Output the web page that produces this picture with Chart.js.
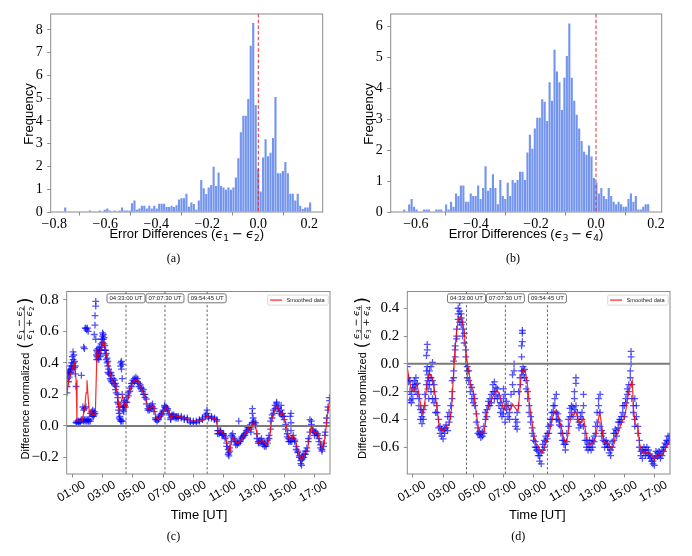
<!DOCTYPE html>
<html><head><meta charset="utf-8">
<script src="https://cdn.jsdelivr.net/npm/chart.js@4.4.1/dist/chart.umd.min.js"></script>
<style>
html,body{margin:0;padding:0;background:#fff;}
#wrap{position:relative;width:692px;height:556px;overflow:hidden;background:#fff;}
canvas{position:absolute;}
</style></head><body>
<div id="wrap">
<canvas id="ca" width="346" height="278" style="left:0;top:0"></canvas>
<canvas id="cb" width="346" height="278" style="left:346px;top:0"></canvas>
<canvas id="cc" width="346" height="278" style="left:0;top:278px"></canvas>
<canvas id="cd" width="346" height="278" style="left:346px;top:278px"></canvas>
</div>
<script>
// ---------------- DATA ----------------
// (a) histogram of e1 - e2 : 100 bins
const histBinStartA = -0.762;
const histBinWidthA = 0.0097;
const histA = [0.2,0,0,0,0,0,0,0,0,0,
  0.07,0,0,0,0.07,0,0.1,0.15,0.07,0,
  0.07,0,0.07,0.2,0.07,0.07,0.07,0.38,0.5,0.1,
  0.15,0.28,0.28,0.15,0.28,0.15,0.28,0.15,0.36,0.36,
  0.36,0.22,0.22,0.28,0.22,0.3,0.55,0.6,0.6,0.8,
  0.23,0.42,0.35,0.1,0.5,1.41,1.04,0.79,1.08,1.19,
  1.99,1.14,1.74,1.14,1.08,0.98,1.08,0.98,1.08,1.52,
  2.36,3.5,4.23,4.23,4.97,7.3,8.3,4.7,1.9,0.9,
  2.4,3.2,2.45,2.6,3.25,5.05,1.7,1.7,1.8,2.2,
  1.7,0.8,0.8,0.5,0.8,0.28,0.13,0.2,0.2,0.42];
// (b) histogram of e3 - e4 : 100 bins
const histBinStartB = -0.643;
const histBinWidthB = 0.00821;
const histB = [0.08,0,0.24,0.42,0.17,0.08,0,0,0.08,0.08,
  0.08,0,0,0.08,0.08,0.08,0,0.24,0.08,0.33,
  0.17,0.6,0.52,0.86,0.86,0.33,0.33,0.6,0.52,0.52,
  0.86,0.42,0.78,1.48,0.69,0.78,1.22,0.78,0.25,1.04,
  0.52,0.42,0.95,0.52,1.04,0.95,1.04,1.3,1.3,1.04,
  1.93,2.5,2.05,2.7,3.05,3.05,3.65,3.57,2.95,4.2,
  3.6,5.25,4.55,4.2,3.3,4.35,5.05,6.1,4.35,3.6,
  3.15,2.7,2.3,1.95,1.85,2.15,1.8,1.1,0.95,0.6,
  0.78,0.52,0.42,0.78,0.52,0.33,0.25,0.33,0.25,0.17,
  0.17,0.42,0.6,0.33,0.52,0.08,0.08,0.17,0.25,0.25];
const refLineX = 0;
const histAXTicks = [-0.8,-0.6,-0.4,-0.2,0,0.2];
const histAXTickLabels = ['\u22120.8','\u22120.6','\u22120.4','\u22120.2','0.0','0.2'];
const histBXTicks = [-0.6,-0.4,-0.2,0,0.2];
const histBXTickLabels = ['\u22120.6','\u22120.4','\u22120.2','0.0','0.2'];
const histAYTicks = [0,1,2,3,4,5,6,7,8];
const histBYTicks = [0,1,2,3,4,5,6];

// time series (hours UT)
const timeTicks = [1,3,5,7,9,11,13,15,17];
const timeTickLabels = ['01:00','03:00','05:00','07:00','09:00','11:00','13:00','15:00','17:00'];
const eventTimes = [4.55, 7.125, 9.9125];
const eventLabels = ['04:33:00 UT','07:07:30 UT','09:54:45 UT'];
const cYTicks = [-0.2,0,0.2,0.4,0.6,0.8];
const cYTickLabels = ['\u22120.2','0.0','0.2','0.4','0.6','0.8'];
const dYTicks = [-0.6,-0.4,-0.2,0,0.2,0.4];
const dYTickLabels = ['\u22120.6','\u22120.4','\u22120.2','0.0','0.2','0.4'];

// (c) smoothed line [t, value]
const cSmooth = [[0.65,0.21],[0.77,0.29],[0.94,0.35],[1.14,0.40],[1.25,0.29],[1.31,0.03],[1.64,0.03],[1.82,0.11],[1.91,0.21],[1.97,0.29],[2.04,0.19],[2.13,0.07],[2.24,0.10],[2.35,0.07],[2.52,0.07],[2.63,0.47],[2.74,0.44],[2.85,0.47],[2.96,0.51],[3.07,0.54],[3.18,0.49],[3.29,0.44],[3.40,0.39],[3.51,0.33],[3.62,0.29],[3.78,0.27],[3.89,0.25],[4.0,0.19],[4.11,0.09],[4.22,0.15],[4.33,0.19],[4.44,0.13],[4.55,0.11],[4.66,0.16],[4.79,0.21],[4.94,0.27],[5.16,0.29],[5.34,0.29],[5.49,0.25],[5.65,0.22],[5.82,0.19],[6.0,0.11],[6.15,0.11],[6.37,0.13],[6.55,0.05],[6.7,0.04],[6.88,0.07],[7.03,0.09],[7.21,0.12],[7.36,0.10],[7.52,0.05],[7.69,0.07],[7.91,0.06],[8.13,0.06],[8.35,0.05],[8.57,0.05],[8.79,0.03],[9.12,0.03],[9.54,0.03],[9.76,0.04],[9.94,0.07],[10.09,0.05],[10.31,0.05],[10.53,0.04],[10.64,-0.04],[10.82,-0.03],[10.97,-0.05],[11.13,-0.07],[11.30,-0.15],[11.41,-0.17],[11.52,-0.09],[11.63,-0.07],[11.74,-0.09],[11.90,-0.11],[12.07,-0.10],[12.29,-0.07],[12.51,-0.04],[12.67,-0.01],[12.80,-0.03],[12.95,0.02],[13.06,0.02],[13.17,-0.03],[13.28,-0.11],[13.44,-0.10],[13.57,-0.09],[13.72,-0.11],[13.83,-0.12],[13.94,-0.10],[14.05,-0.07],[14.16,0.03],[14.27,0.07],[14.38,0.10],[14.54,0.13],[14.65,0.10],[14.76,0.07],[14.87,0.08],[15.0,0.05],[15.15,0.0],[15.31,-0.08],[15.48,-0.09],[15.59,-0.06],[15.75,-0.09],[15.88,-0.15],[16.03,-0.19],[16.14,-0.22],[16.25,-0.19],[16.41,-0.17],[16.54,-0.15],[16.69,-0.07],[16.80,0.0],[16.91,-0.03],[17.07,-0.05],[17.20,-0.04],[17.35,-0.09],[17.51,-0.14],[17.64,-0.12],[17.75,-0.03],[17.86,0.07],[18.02,0.17]];
// (c) raw points [t, v1, v2, ...]
const cScatter = [[0.65,0.21,0.25],[0.7,0.30,0.33],[0.75,0.28,0.34],[0.8,0.31,0.35],[0.85,0.33,0.36],[0.9,0.34,0.38],[0.95,0.36,0.40],[1.0,0.44,0.38],[1.05,0.47,0.42,0.36],[1.1,0.45,0.40],[1.15,0.41,0.37],[1.2,0.33,0.38],[1.25,0.25,0.02],[1.3,0.03,0.02],[1.4,0.03,0.02],[1.5,0.03,0.02],[1.55,0.03],[1.6,0.04,0.32],[1.7,0.04,0.12],[1.75,0.10,0.03,0.5],[1.8,0.49,0.11,0.04],[1.85,0.62,0.03],[1.9,0.62,0.04,0.12],[1.95,0.61,0.03],[2.0,0.62,0.04],[2.05,0.60,0.03],[2.1,0.04,0.03],[2.2,0.08,0.03],[2.3,0.09,0.06],[2.35,0.07,0.1],[2.4,0.06,0.08],[2.45,0.07,0.09,0.58],[2.5,0.64,0.7,0.08],[2.55,0.76,0.79,0.55],[2.6,0.45,0.48,0.42],[2.65,0.47,0.44],[2.7,0.43,0.46,0.49],[2.75,0.45,0.42],[2.8,0.46,0.50],[2.85,0.48,0.44],[2.9,0.52,0.48],[2.95,0.55,0.50],[3.0,0.57,0.59,0.53],[3.05,0.58,0.55],[3.1,0.56,0.52],[3.15,0.51,0.48],[3.2,0.48,0.45],[3.25,0.46,0.42],[3.3,0.43,0.40],[3.35,0.41,0.38,0.34],[3.4,0.36,0.33],[3.5,0.33,0.30],[3.55,0.29,0.34],[3.6,0.28,0.32],[3.7,0.27,0.30],[3.8,0.26,0.29],[3.85,0.23,0.27],[3.9,0.25,0.21],[4.0,0.2,0.15,0.18],[4.05,0.1,0.14],[4.1,0.08,0.12,0.05],[4.15,0.06,0.04],[4.2,0.03,0.38,0.4],[4.25,0.36,0.41,0.03],[4.3,0.39,0.3,0.2],[4.35,0.12,0.1,0.03],[4.4,0.09,0.12],[4.45,0.13,0.16],[4.5,0.12,0.15],[4.6,0.15,0.18],[4.7,0.19,0.21],[4.8,0.22,0.24],[4.9,0.25,0.27],[5.0,0.27,0.29],[5.1,0.28,0.30],[5.2,0.29,0.31],[5.3,0.28,0.30],[5.4,0.27,0.25],[5.5,0.24,0.26],[5.6,0.22,0.24],[5.7,0.2,0.23],[5.8,0.18,0.2],[5.9,0.14,0.17],[6.0,0.11,0.1],[6.1,0.10,0.12],[6.2,0.11,0.13],[6.3,0.12,0.14],[6.4,0.11,0.09],[6.5,0.05,0.04],[6.6,0.04,0.03],[6.7,0.04,0.05],[6.8,0.06,0.07],[6.9,0.08,0.07],[7.0,0.09,0.1],[7.1,0.12,0.13],[7.2,0.12,0.11],[7.3,0.1,0.11],[7.4,0.07,0.08],[7.5,0.05,0.04],[7.6,0.06,0.07],[7.7,0.06,0.07],[7.8,0.06,0.05],[7.9,0.06,0.05],[8.0,0.05,0.06],[8.2,0.05,0.06],[8.4,0.05,0.04],[8.6,0.04,0.05],[8.8,0.03,0.02],[9.0,0.03,0.02],[9.2,0.03,0.02],[9.4,0.03,0.04],[9.6,0.04,0.05],[9.8,0.06,0.07],[9.9,0.1,0.08],[10.0,0.06,0.05],[10.2,0.05,0.06],[10.4,0.05,0.04],[10.55,0.04,0.03],[10.6,-0.03,-0.05],[10.7,-0.05,-0.03],[10.8,-0.03,-0.04],[10.9,-0.05,-0.06],[11.0,-0.06,-0.05],[11.1,-0.07,-0.08],[11.2,-0.11,-0.13],[11.3,-0.15,-0.18],[11.35,-0.17,-0.19],[11.4,-0.16,-0.14],[11.5,-0.10,-0.06],[11.6,-0.05,-0.07],[11.7,-0.08,-0.09],[11.8,-0.10,-0.12],[11.9,-0.12,-0.11],[12.0,-0.11,0.03],[12.1,-0.09,-0.10],[12.2,-0.08,-0.07],[12.3,-0.07,-0.06],[12.4,-0.05,-0.06],[12.5,-0.04,-0.03],[12.6,-0.02,-0.01],[12.7,0.0,-0.01],[12.8,-0.02,-0.04],[12.9,0.02,0.08,0.11],[12.95,0.05,0.02],[13.0,0.03,0.01],[13.1,0.0,0.02],[13.2,-0.05,-0.08],[13.3,-0.11,-0.10],[13.4,-0.09,-0.11],[13.5,-0.08,-0.10],[13.6,-0.10,-0.12],[13.7,-0.11,-0.13],[13.8,-0.12,-0.13],[13.9,-0.11,-0.09],[14.0,-0.08,-0.06],[14.1,-0.02,0.03],[14.2,0.05,0.07],[14.3,0.08,0.1],[14.4,0.11,0.13],[14.5,0.15,0.14],[14.6,0.12,0.11],[14.7,0.08,0.09],[14.8,0.07,0.1,0.13],[14.9,0.06,0.08],[15.0,0.04,0.06],[15.1,0.01,-0.02],[15.2,-0.05,-0.07],[15.3,-0.08,-0.1],[15.4,-0.09,-0.1,0.06],[15.45,0.08,0.02,-0.03],[15.5,-0.08,-0.1],[15.6,-0.06,-0.08],[15.7,-0.09,-0.1],[15.8,-0.13,-0.15],[15.9,-0.16,-0.17],[16.0,-0.19,-0.2],[16.1,-0.22,-0.24],[16.15,-0.25,-0.21],[16.2,-0.21,-0.19],[16.3,-0.18,-0.2],[16.4,-0.16,-0.18],[16.5,-0.14,-0.16],[16.6,-0.1,-0.08],[16.7,-0.04,0.04],[16.8,0.03,0.01],[16.9,-0.02,-0.03],[17.0,-0.04,-0.06],[17.1,-0.05,-0.04],[17.2,-0.05,-0.06],[17.3,-0.08,-0.1],[17.4,-0.12,-0.14],[17.5,-0.15,-0.16],[17.6,-0.13,-0.11],[17.7,-0.06,-0.04],[17.8,0.02,0.05],[17.9,0.1,0.12],[18.0,0.16,0.18]];

// (d) smoothed line
const dSmooth = [[0.62,-0.02],[0.75,-0.11],[0.91,-0.19],[1.06,-0.2],[1.2,-0.16],[1.28,-0.15],[1.42,-0.23],[1.57,-0.33],[1.68,-0.36],[1.81,-0.26],[1.95,-0.13],[2.08,-0.07],[2.21,-0.08],[2.35,-0.13],[2.48,-0.23],[2.61,-0.33],[2.74,-0.45],[2.9,-0.48],[3.05,-0.48],[3.23,-0.45],[3.4,-0.44],[3.56,-0.32],[3.67,-0.11],[3.78,0.09],[3.89,0.23],[4.02,0.33],[4.15,0.34],[4.29,0.30],[4.40,0.23],[4.51,0.09],[4.62,0.0],[4.73,-0.07],[4.84,-0.16],[5.0,-0.19],[5.1,-0.27],[5.21,-0.36],[5.33,-0.45],[5.44,-0.50],[5.61,-0.5],[5.74,-0.48],[5.88,-0.36],[5.99,-0.31],[6.14,-0.27],[6.32,-0.23],[6.54,-0.19],[6.72,-0.21],[6.87,-0.27],[7.02,-0.33],[7.16,-0.29],[7.31,-0.31],[7.47,-0.33],[7.6,-0.29],[7.73,-0.31],[7.86,-0.33],[7.97,-0.34],[8.08,-0.20],[8.19,-0.07],[8.3,-0.04],[8.44,-0.05],[8.57,-0.13],[8.7,-0.27],[8.86,-0.39],[9.01,-0.51],[9.14,-0.57],[9.30,-0.59],[9.41,-0.62],[9.56,-0.64],[9.72,-0.60],[9.87,-0.55],[10.05,-0.49],[10.23,-0.40],[10.38,-0.34],[10.54,-0.34],[10.67,-0.39],[10.82,-0.45],[10.98,-0.53],[11.11,-0.57],[11.26,-0.52],[11.38,-0.43],[11.53,-0.36],[11.66,-0.37],[11.77,-0.34],[11.93,-0.39],[12.04,-0.43],[12.19,-0.41],[12.3,-0.39],[12.44,-0.48],[12.59,-0.57],[12.75,-0.58],[12.92,-0.57],[13.1,-0.53],[13.25,-0.43],[13.36,-0.35],[13.47,-0.41],[13.58,-0.52],[13.69,-0.57],[13.85,-0.57],[13.98,-0.58],[14.13,-0.61],[14.29,-0.59],[14.42,-0.52],[14.58,-0.5],[14.73,-0.45],[14.86,-0.41],[15.02,-0.39],[15.17,-0.29],[15.3,-0.2],[15.42,-0.15],[15.53,-0.12],[15.61,-0.32],[15.72,-0.43],[15.9,-0.45],[16.01,-0.57],[16.19,-0.64],[16.34,-0.63],[16.5,-0.64],[16.67,-0.64],[16.85,-0.66],[17.0,-0.69],[17.16,-0.66],[17.29,-0.65],[17.44,-0.66],[17.6,-0.64],[17.78,-0.60],[17.95,-0.57],[18.04,-0.55]];
// (d) raw points
const dScatter = [[0.62,0.11,-0.05,-0.02],[0.7,-0.1,-0.13],[0.8,-0.12,-0.26,-0.2],[0.9,-0.28,-0.22],[1.0,-0.25,-0.17,-0.15],[1.1,-0.18,-0.12],[1.2,-0.15,-0.1,-0.2],[1.3,-0.14,-0.22],[1.4,-0.25,-0.3],[1.5,-0.33,-0.4],[1.6,-0.38,-0.43,-0.35],[1.7,-0.4,-0.33],[1.8,-0.3,-0.22],[1.9,-0.15,-0.05,0.06],[1.95,0.14,0.1,-0.02],[2.0,-0.08,-0.12,-0.18],[2.05,-0.1,-0.25],[2.1,-0.05,-0.15],[2.2,-0.1,-0.02,-0.2],[2.3,0.01,-0.12,-0.25],[2.4,-0.2,-0.28,-0.15],[2.5,-0.25,-0.35],[2.6,-0.35,-0.3],[2.7,-0.4,-0.46],[2.8,-0.45,-0.5],[2.9,-0.52,-0.47],[3.0,-0.54,-0.48],[3.1,-0.47,-0.5],[3.2,-0.44,-0.46],[3.3,-0.38,-0.48],[3.4,-0.42,-0.35],[3.5,-0.3,-0.38],[3.6,-0.25,-0.2,-0.12],[3.7,-0.05,-0.1,0.02],[3.8,0.05,0.1,0.13],[3.9,0.2,0.25,0.18],[4.0,0.32,0.36,0.4],[4.1,0.44,0.47,0.38,0.3],[4.2,0.33,0.28,0.36],[4.3,0.3,0.25,0.2],[4.4,0.22,0.15],[4.5,0.1,0.05,0.0],[4.6,-0.02,-0.05,-0.1],[4.7,-0.05,-0.12],[4.8,-0.15,-0.2],[4.9,-0.17,-0.25],[5.0,-0.22,-0.28],[5.1,-0.3,-0.25],[5.2,-0.36,-0.42],[5.3,-0.46,-0.5],[5.4,-0.51,-0.49],[5.5,-0.53,-0.5],[5.6,-0.52,-0.49],[5.7,-0.45,-0.5],[5.8,-0.4,-0.35],[5.9,-0.33,-0.38],[6.0,-0.3,-0.27],[6.1,-0.25,-0.3],[6.2,-0.22,-0.28],[6.3,-0.2,-0.15],[6.4,-0.13,-0.2,-0.25],[6.5,-0.17,-0.22],[6.6,-0.18,-0.25],[6.7,-0.23,-0.3],[6.8,-0.28,-0.35],[6.9,-0.32,-0.38],[7.0,-0.36,-0.25,-0.18],[7.1,-0.22,-0.3,-0.42],[7.2,-0.33,-0.27],[7.3,-0.3,-0.38],[7.4,-0.35,-0.4],[7.5,-0.3,-0.22],[7.6,-0.15,-0.08],[7.7,0.0,-0.05,-0.2],[7.8,-0.4,-0.45],[7.9,-0.47,-0.42,-0.35],[8.0,-0.3,-0.2],[8.1,-0.15,-0.1],[8.2,-0.05,0.05,0.13],[8.25,0.24,0.22,0.16],[8.3,-0.02,-0.05,-0.08],[8.4,-0.1,-0.04],[8.5,-0.12,-0.18],[8.6,-0.2,-0.25],[8.7,-0.3,-0.35],[8.8,-0.38,-0.42],[8.9,-0.46,-0.5],[9.0,-0.52,-0.55],[9.1,-0.56,-0.6],[9.2,-0.6,-0.62],[9.3,-0.63,-0.66],[9.4,-0.66,-0.7],[9.5,-0.72,-0.64],[9.6,-0.62,-0.58],[9.7,-0.6,-0.55],[9.8,-0.56,-0.52],[9.9,-0.54,-0.5],[10.0,-0.5,-0.45],[10.1,-0.44,-0.4],[10.2,-0.4,-0.35],[10.3,-0.35,-0.3],[10.4,-0.3,-0.25],[10.5,-0.22,-0.35,-0.4],[10.6,-0.36,-0.4],[10.7,-0.41,-0.44],[10.8,-0.45,-0.5],[10.9,-0.5,-0.55],[11.0,-0.55,-0.58],[11.1,-0.62,-0.58],[11.2,-0.56,-0.5],[11.3,-0.45,-0.4],[11.4,-0.38,-0.32],[11.5,-0.35,-0.3],[11.6,-0.38,-0.31],[11.7,-0.33,-0.2,-0.25],[11.8,-0.14,-0.1,-0.3],[11.9,-0.35,-0.4],[12.0,-0.42,-0.46],[12.1,-0.44,-0.38],[12.2,-0.4,-0.35],[12.3,-0.3,-0.22,-0.45],[12.4,-0.5,-0.55],[12.5,-0.55,-0.6],[12.6,-0.58,-0.62],[12.7,-0.6,-0.55],[12.8,-0.57,-0.62],[12.9,-0.55,-0.6],[13.0,-0.52,-0.56],[13.1,-0.5,-0.45],[13.2,-0.42,-0.35],[13.3,-0.3,-0.25],[13.4,-0.22,-0.35,-0.45],[13.5,-0.48,-0.52],[13.6,-0.55,-0.5],[13.7,-0.56,-0.6],[13.8,-0.58,-0.55],[13.9,-0.57,-0.6],[14.0,-0.6,-0.64],[14.1,-0.66,-0.62],[14.2,-0.6,-0.56],[14.3,-0.55,-0.5],[14.4,-0.5,-0.47],[14.5,-0.48,-0.52],[14.6,-0.46,-0.42],[14.7,-0.42,-0.4],[14.8,-0.38,-0.42],[14.9,-0.35,-0.3],[15.0,-0.38,-0.3],[15.1,-0.28,-0.25],[15.2,-0.22,-0.18],[15.3,-0.15,-0.2],[15.4,-0.1,-0.05],[15.45,0.0,0.05,0.09],[15.5,-0.15,-0.25],[15.6,-0.3,-0.35],[15.7,-0.4,-0.45,-0.25],[15.8,-0.3,-0.38],[15.9,-0.45,-0.5],[16.0,-0.55,-0.6],[16.1,-0.63,-0.66],[16.2,-0.68,-0.62],[16.3,-0.6,-0.64],[16.4,-0.62,-0.66],[16.5,-0.64,-0.6],[16.6,-0.62,-0.66],[16.7,-0.65,-0.68],[16.8,-0.67,-0.7],[16.9,-0.7,-0.72],[17.0,-0.73,-0.68],[17.1,-0.66,-0.63],[17.2,-0.64,-0.67],[17.3,-0.66,-0.63],[17.4,-0.65,-0.68],[17.5,-0.66,-0.62],[17.6,-0.63,-0.6],[17.7,-0.6,-0.57],[17.8,-0.58,-0.55],[17.9,-0.56,-0.52],[18.0,-0.55,-0.52]];

// ---------------- RENDERING ----------------
const SANS = '"Liberation Sans", Arial, Helvetica, sans-serif';
const SERIF = '"Liberation Serif", "Times New Roman", serif';
const MATH = '"DejaVu Sans", sans-serif';

function drawRich(ctx, parts, x, y) {
  let cx = x;
  for (const p of parts) {
    ctx.font = p.f;
    if (p.t) ctx.fillText(p.t, cx, y + (p.dy || 0));
    cx += (p.t ? ctx.measureText(p.t).width : 0) + (p.sp || 0);
  }
  return cx;
}
function richWidth(ctx, parts) {
  let w = 0;
  for (const p of parts) { ctx.font = p.f; w += (p.t ? ctx.measureText(p.t).width : 0) + (p.sp || 0); }
  return w;
}
function roundRect(ctx, x, y, w, h, r) {
  ctx.beginPath();
  ctx.moveTo(x + r, y); ctx.lineTo(x + w - r, y); ctx.quadraticCurveTo(x + w, y, x + w, y + r);
  ctx.lineTo(x + w, y + h - r); ctx.quadraticCurveTo(x + w, y + h, x + w - r, y + h);
  ctx.lineTo(x + r, y + h); ctx.quadraticCurveTo(x, y + h, x, y + h - r);
  ctx.lineTo(x, y + r); ctx.quadraticCurveTo(x, y, x + r, y); ctx.closePath();
}

const deco = {
  id: 'deco',
  afterDatasetDraw(chart, args, o) {
    const ctx = chart.ctx, a = chart.chartArea, xs = chart.scales.x, ys = chart.scales.y;
    if (o.kind === 'ts' && args.index === 1) {
      ctx.save();
      ctx.beginPath(); ctx.rect(a.left, a.top, a.right - a.left, a.bottom - a.top); ctx.clip();
      ctx.strokeStyle = '#444'; ctx.lineWidth = 0.8; ctx.setLineDash([2.5, 2]);
      eventTimes.forEach(t => {
        const x = xs.getPixelForValue(t);
        ctx.beginPath(); ctx.moveTo(x, a.top); ctx.lineTo(x, a.bottom); ctx.stroke();
      });
      ctx.setLineDash([]);
      const y0 = ys.getPixelForValue(0);
      ctx.strokeStyle = '#7a7a7a'; ctx.lineWidth = 2;
      ctx.beginPath(); ctx.moveTo(a.left, y0); ctx.lineTo(a.right, y0); ctx.stroke();
      ctx.restore();
    }
  },
  afterDatasetsDraw(chart, args, o) {
    const ctx = chart.ctx, a = chart.chartArea, xs = chart.scales.x;
    if (o.kind === 'hist') {
      ctx.save();
      const x = xs.getPixelForValue(refLineX);
      ctx.strokeStyle = '#e8282b'; ctx.lineWidth = 1; ctx.setLineDash([3.5, 2.2]);
      ctx.beginPath(); ctx.moveTo(x, a.top); ctx.lineTo(x, a.bottom); ctx.stroke();
      ctx.restore();
    }
  },
  afterDraw(chart, args, o) {
    const ctx = chart.ctx, a = chart.chartArea, xs = chart.scales.x;
    const ox = o.ox, oy = o.oy;
    ctx.save();
    ctx.strokeStyle = '#8a8a8a'; ctx.lineWidth = 1;
    ctx.strokeRect(a.left, a.top, a.right - a.left, a.bottom - a.top);
    ctx.fillStyle = '#000';
    if (o.kind === 'hist') {
      ctx.save();
      ctx.translate(o.yTitle[0] - ox, o.yTitle[1] - oy);
      ctx.rotate(-Math.PI / 2);
      ctx.font = '13px ' + SANS; ctx.textAlign = 'center'; ctx.textBaseline = 'middle';
      ctx.fillText('Frequency', 0, 0);
      ctx.restore();
      ctx.textAlign = 'left'; ctx.textBaseline = 'alphabetic';
      const parts = [
        {t: 'Error Differences (', f: '13px ' + SANS},
        {t: '\u03F5', f: 'italic 13px ' + MATH},
        {t: o.subs[0], f: '9px ' + MATH, dy: 2.5, sp: 3},
        {t: '\u2212', f: '13px ' + MATH, sp: 3},
        {t: '\u03F5', f: 'italic 13px ' + MATH},
        {t: o.subs[1], f: '9px ' + MATH, dy: 2.5},
        {t: ')', f: '13px ' + SANS}
      ];
      const w = richWidth(ctx, parts);
      drawRich(ctx, parts, o.xTitle[0] - ox - w / 2, o.xTitle[1] - oy + 5);
    } else {
      ctx.font = '6px ' + SANS; ctx.textAlign = 'center'; ctx.textBaseline = 'middle';
      eventTimes.forEach((t, i) => {
        const x = xs.getPixelForValue(t);
        const tw = ctx.measureText(eventLabels[i]).width;
        const bw = tw + 5, bh = 9, by = a.top + 2.3;
        ctx.fillStyle = '#fff'; ctx.strokeStyle = '#555'; ctx.lineWidth = 0.8;
        roundRect(ctx, x - bw / 2, by, bw, bh, 1.8); ctx.fill(); ctx.stroke();
        ctx.fillStyle = '#222'; ctx.fillText(eventLabels[i], x, by + bh / 2 + 0.3);
      });
      const lw = 60.6, lh = 10, lx = a.right - 1.8 - lw, ly = a.top + 3.6;
      ctx.fillStyle = 'rgba(255,255,255,0.85)'; ctx.strokeStyle = '#d0d0d0'; ctx.lineWidth = 0.8;
      roundRect(ctx, lx, ly, lw, lh, 1.5); ctx.fill(); ctx.stroke();
      ctx.strokeStyle = 'rgba(255,0,0,0.8)'; ctx.lineWidth = 1.3;
      ctx.beginPath(); ctx.moveTo(lx + 2.5, ly + lh / 2); ctx.lineTo(lx + 14.5, ly + lh / 2); ctx.stroke();
      ctx.fillStyle = '#222'; ctx.font = '5.6px ' + SANS; ctx.textAlign = 'left';
      ctx.fillText('Smoothed data', lx + 19, ly + lh / 2 + 0.3);
      ctx.fillStyle = '#000'; ctx.font = '12px ' + SANS; ctx.textAlign = 'center'; ctx.textBaseline = 'middle';
      xs.ticks.forEach((tk, i) => {
        const x = xs.getPixelForValue(tk.value);
        ctx.save(); ctx.translate(x - 1, a.bottom + 17.5); ctx.rotate(-Math.PI / 6);
        ctx.fillText(timeTickLabels[i], 0, 0); ctx.restore();
      });
      ctx.font = '13px ' + SANS; ctx.textAlign = 'center'; ctx.textBaseline = 'middle';
      ctx.fillText('Time [UT]', o.xTitle[0] - ox, o.xTitle[1] - oy);
      ctx.save();
      ctx.translate(o.yTitle[0] - ox, o.yTitle[1] - oy);
      ctx.rotate(-Math.PI / 2);
      ctx.textAlign = 'left'; ctx.textBaseline = 'alphabetic';
      const wordsF = '11px ' + SANS;
      ctx.font = wordsF;
      const ww = ctx.measureText('Difference normalized').width;
      const e = 'italic 9.5px ' + MATH, sb = '6.5px ' + MATH, op = '9.5px ' + MATH;
      const num = [{t: '\u03F5', f: e}, {t: o.subs[0], f: sb, dy: 2, sp: 2.5}, {t: '\u2212', f: op, sp: 2.5}, {t: '\u03F5', f: e}, {t: o.subs[1], f: sb, dy: 2}];
      const den = [{t: '\u03F5', f: e}, {t: o.subs[0], f: sb, dy: 2, sp: 2.5}, {t: '+', f: op, sp: 2.5}, {t: '\u03F5', f: e}, {t: o.subs[1], f: sb, dy: 2}];
      const nw = richWidth(ctx, num), dw = richWidth(ctx, den);
      const fw = Math.max(nw, dw) + 3;
      const pf = '17px ' + MATH;
      ctx.font = pf; const pw = ctx.measureText('(').width;
      const total = ww + 4 + pw + 1 + fw + 1 + pw;
      let cx = -total / 2;
      ctx.fillStyle = '#000';
      ctx.font = wordsF; ctx.fillText('Difference normalized', cx, 4); cx += ww + 4;
      ctx.font = pf; ctx.fillText('(', cx, 5.5); cx += pw + 1;
      drawRich(ctx, num, cx + (fw - nw) / 2, -2.8);
      ctx.strokeStyle = '#000'; ctx.lineWidth = 0.6;
      ctx.beginPath(); ctx.moveTo(cx + 0.5, -0.6); ctx.lineTo(cx + fw - 0.5, -0.6); ctx.stroke();
      drawRich(ctx, den, cx + (fw - dw) / 2, 6.8);
      cx += fw + 1;
      ctx.font = pf; ctx.fillText(')', cx, 5.5);
      ctx.restore();
    }
    ctx.fillStyle = '#000';
    ctx.font = '12px ' + SERIF; ctx.textAlign = 'center'; ctx.textBaseline = 'middle';
    ctx.fillText(o.caption, o.capPos[0] - ox, o.capPos[1] - oy);
    ctx.restore();
  }
};

function fixedTicks(vals) { return (scale) => { scale.ticks = vals.map(v => ({value: v})); }; }

function histChart(id, hist, start, width, xmin, xmax, ymax, xt, xtl, yt, padR, yW, meta) {
  const pts = hist.map((v, i) => ({x: start + (i + 0.5) * width, y: v}));
  return new Chart(document.getElementById(id), {
    type: 'bar',
    data: {datasets: [{data: pts, backgroundColor: 'rgba(80,122,232,0.8)', borderWidth: 0,
      barPercentage: 0.86, categoryPercentage: 1.0}]},
    options: {
      responsive: false, animation: false, events: [],
      layout: {padding: {left: 0, right: padR, top: 14, bottom: 0}, autoPadding: false},
      plugins: {legend: {display: false}, tooltip: {enabled: false}, deco: meta},
      scales: {
        x: {type: 'linear', min: xmin, max: xmax, offset: false,
          afterBuildTicks: fixedTicks(xt), afterFit: (s) => { s.height = 66; },
          grid: {drawOnChartArea: false, drawTicks: true, tickLength: 3.5, color: '#8a8a8a'},
          border: {display: false},
          ticks: {autoSkip: false, maxRotation: 0, minRotation: 0, padding: 0, color: '#000',
            font: {family: SERIF, size: 14}, callback: (v, i) => xtl[i]}},
        y: {min: 0, max: ymax,
          afterBuildTicks: fixedTicks(yt), afterFit: (s) => { s.width = yW; },
          grid: {drawOnChartArea: false, drawTicks: true, tickLength: 3.5, color: '#8a8a8a'},
          border: {display: false},
          ticks: {autoSkip: false, padding: 4.5, color: '#000', font: {family: SERIF, size: 14},
            callback: (v) => String(v)}}
      }
    },
    plugins: [deco]
  });
}

function tsChart(id, smooth, scatter, ymin, ymax, yt, ytl, padR, padT, yW, meta) {
  const sPts = smooth.map(p => ({x: p[0], y: p[1]}));
  const rPts = scatter.flatMap(g => g.slice(1).map(v => ({x: g[0], y: v})));
  return new Chart(document.getElementById(id), {
    type: 'scatter',
    data: {datasets: [
      {type: 'line', data: sPts, borderColor: 'rgba(255,0,0,0.85)', borderWidth: 1.2, pointRadius: 0, tension: 0, order: 0, fill: false},
      {type: 'scatter', data: rPts, pointStyle: 'cross', pointRadius: 3.4, borderWidth: 1.3,
        borderColor: 'rgba(0,0,255,0.68)', backgroundColor: 'rgba(0,0,255,0.68)', order: 1}
    ]},
    options: {
      responsive: false, animation: false, events: [],
      layout: {padding: {left: 0, right: padR, top: padT, bottom: 0}, autoPadding: false},
      plugins: {legend: {display: false}, tooltip: {enabled: false}, deco: meta},
      scales: {
        x: {type: 'linear', min: 0.63, max: 18.03,
          afterBuildTicks: fixedTicks(timeTicks), afterFit: (s) => { s.height = 82; },
          grid: {drawOnChartArea: false, drawTicks: true, tickLength: 3.5, color: '#8a8a8a'},
          border: {display: false},
          ticks: {autoSkip: false, maxRotation: 0, minRotation: 0, callback: () => ''}},
        y: {min: ymin, max: ymax,
          afterBuildTicks: fixedTicks(yt), afterFit: (s) => { s.width = yW; },
          grid: {drawOnChartArea: false, drawTicks: true, tickLength: 3.5, color: '#8a8a8a'},
          border: {display: false},
          ticks: {autoSkip: false, padding: 4.5, color: '#000', font: {family: SERIF, size: 15},
            callback: (v, i) => ytl[i]}}
      }
    },
    plugins: [deco]
  });
}

histChart('ca', histA, histBinStartA, histBinWidthA, -0.814, 0.2525, 8.70,
  histAXTicks, histAXTickLabels, histAYTicks, 23.3, 50.7,
  {kind: 'hist', ox: 0, oy: 0, subs: ['1', '2'], yTitle: [29.5, 114], xTitle: [186.7, 233], caption: '(a)', capPos: [173.5, 259]});
histChart('cb', histB, histBinStartB, histBinWidthB, -0.684, 0.219, 6.41,
  histBXTicks, histBXTickLabels, histBYTicks, 30.3, 44.7,
  {kind: 'hist', ox: 346, oy: 0, subs: ['3', '4'], yTitle: [369.5, 114], xTitle: [526, 233], caption: '(b)', capPos: [513, 259]});
tsChart('cc', cSmooth, cScatter, -0.3054, 0.853, cYTicks, cYTickLabels, 16, 3.7, 66.7,
  {kind: 'ts', ox: 0, oy: 278, subs: ['1', '2'], yTitle: [25, 378.5], xTitle: [199, 515], caption: '(c)', capPos: [173.5, 537]});
tsChart('cd', dSmooth, dScatter, -0.7925, 0.5205, dYTicks, dYTickLabels, 22, 4.3, 61.3,
  {kind: 'ts', ox: 346, oy: 278, subs: ['3', '4'], yTitle: [362, 378], xTitle: [537.3, 515], caption: '(d)', capPos: [518.3, 537]});
</script>
</body></html>
